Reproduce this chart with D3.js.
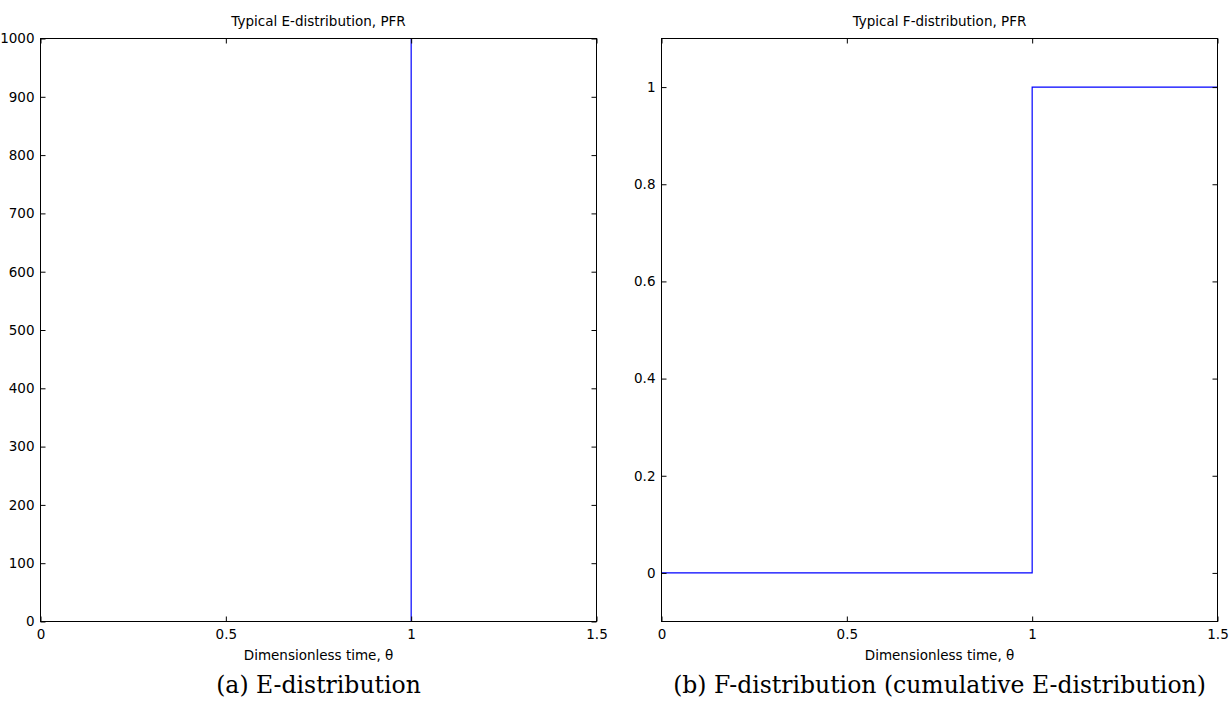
<!DOCTYPE html>
<html>
<head>
<meta charset="utf-8">
<script src="https://cdn.jsdelivr.net/npm/d3@7"></script>
<style>
  body{margin:0;background:#fff;}
  svg{display:block;}
  .tick text{font-family:"DejaVu Sans",sans-serif;font-size:13.5px;fill:#000;}
  .tick line{stroke:#000;}
</style>
</head>
<body>
<svg id="chart" width="1229" height="715"></svg>
<script>
// E-distribution (ideal PFR: spike at theta = 1)
var eTheta = [0, 1, 1, 1, 1.5],
    eValues = [0, 0, 1000, 0, 0];
// F-distribution (step at theta = 1)
var fTheta = [0, 1, 1, 1.5],
    fValues = [0, 0, 1, 1];

var xTicks = [0, 0.5, 1, 1.5],
    eTicks = [0, 100, 200, 300, 400, 500, 600, 700, 800, 900, 1000],
    fTicks = [0, 0.2, 0.4, 0.6, 0.8, 1];

var titles = ["Typical E-distribution, PFR", "Typical F-distribution, PFR"],
    xLabel = "Dimensionless time, \u03b8",
    captions = ["(a) E-distribution", "(b) F-distribution (cumulative E-distribution)"];

var svg = d3.select("#chart");

//draw one matlab style panel
var drawPanel = function(opts){
    var x = d3.scaleLinear().domain([0, 1.5]).range([opts.left, opts.right]),
        y = d3.scaleLinear().domain(opts.yDomain).range([opts.bottom, opts.top]),
        tick = 5;

    var g = svg.append("g");

    //data line
    var line = d3.line().x(d => x(d[0])).y(d => y(d[1]));
    g.append("path")
        .datum(d3.zip(opts.xs, opts.ys))
        .attr("d", line)
        .attr("fill", "none")
        .attr("stroke", "#0000ff")
        .attr("stroke-width", 1.2);

    //axes, ticks pointing inward
    var bottom = g.append("g").attr("transform", "translate(0," + opts.bottom + ")")
        .call(d3.axisBottom(x).tickValues(xTicks).tickFormat(d3.format("")).tickSizeInner(-tick).tickSizeOuter(0).tickPadding(8));
    var top = g.append("g").attr("transform", "translate(0," + opts.top + ")")
        .call(d3.axisTop(x).tickValues(xTicks).tickFormat("").tickSizeInner(-tick).tickSizeOuter(0));
    var left = g.append("g").attr("transform", "translate(" + opts.left + ",0)")
        .call(d3.axisLeft(y).tickValues(opts.yTicks).tickFormat(d3.format("")).tickSizeInner(-tick).tickSizeOuter(0).tickPadding(6));
    var right = g.append("g").attr("transform", "translate(" + opts.right + ",0)")
        .call(d3.axisRight(y).tickValues(opts.yTicks).tickFormat("").tickSizeInner(-tick).tickSizeOuter(0));
    [bottom, top, left, right].forEach(a => a.select(".domain").remove());

    //box
    g.append("rect")
        .attr("x", opts.left).attr("y", opts.top)
        .attr("width", opts.right - opts.left).attr("height", opts.bottom - opts.top)
        .attr("fill", "none").attr("stroke", "#000").attr("stroke-width", 1);

    var cx = (opts.left + opts.right) / 2;
    g.append("text")
        .attr("x", cx).attr("y", 26)
        .attr("text-anchor", "middle")
        .style("font-family", "DejaVu Sans, sans-serif").style("font-size", "13.5px")
        .text(opts.title);
    g.append("text")
        .attr("x", cx).attr("y", 660)
        .attr("text-anchor", "middle")
        .style("font-family", "DejaVu Sans, sans-serif").style("font-size", "13.5px")
        .text(xLabel);
    g.append("text")
        .attr("x", cx).attr("y", 693)
        .attr("text-anchor", "middle")
        .style("font-family", "DejaVu Serif, serif").style("font-size", "23.5px")
        .text(opts.caption);
};

drawPanel({left: 40.5, right: 596.5, top: 38.5, bottom: 621.5,
           yDomain: [0, 1000], yTicks: eTicks, xs: eTheta, ys: eValues,
           title: titles[0], caption: captions[0]});
drawPanel({left: 661.5, right: 1217.5, top: 38.5, bottom: 621.5,
           yDomain: [-0.1, 1.1], yTicks: fTicks, xs: fTheta, ys: fValues,
           title: titles[1], caption: captions[1]});
</script>
</body>
</html>
